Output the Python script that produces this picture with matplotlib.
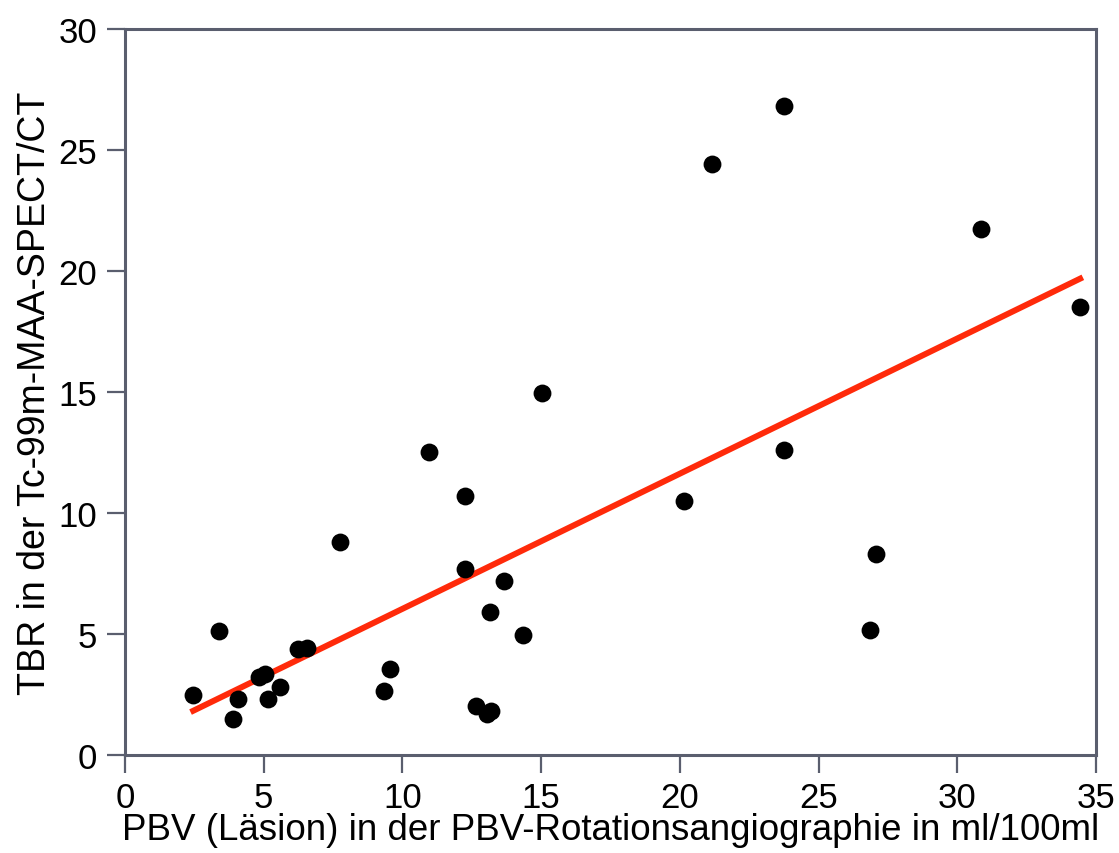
import numpy as np
import matplotlib
matplotlib.use('Agg')
import matplotlib.pyplot as plt

plt.rcParams['font.family'] = ['Liberation Sans', 'DejaVu Sans']

# PBV (lesion) vs TBR
pbv = [2.46, 3.38, 3.88, 4.06, 4.83, 5.05, 5.17, 5.59, 6.25, 6.55,
       7.75, 9.35, 9.55, 10.96, 12.26, 12.26, 12.64, 13.04, 13.18, 13.16,
       13.66, 14.36, 15.03, 20.15, 21.16, 23.76, 23.76, 26.86, 27.07, 30.86, 34.43]
tbr = [2.48, 5.11, 1.49, 2.31, 3.22, 3.35, 2.31, 2.82, 4.38, 4.41,
       8.80, 2.63, 3.55, 12.52, 10.70, 7.69, 2.04, 1.69, 1.83, 5.90,
       7.18, 4.96, 14.96, 10.50, 24.42, 26.82, 12.60, 5.17, 8.31, 21.74, 18.51]

xticks = [0, 5, 10, 15, 20, 25, 30, 35]
yticks = [0, 5, 10, 15, 20, 25, 30]

fig = plt.figure(figsize=(11.19, 8.54), dpi=100)
ax = fig.add_axes([0.1117, 0.1148, 0.8677, 0.8501])

ax.scatter(pbv, tbr, s=165, color='black', zorder=3, linewidths=0)

# linear regression
k, d = np.polyfit(pbv, tbr, 1)
xs = np.array([min(pbv), max(pbv)])
ax.plot(xs, k * xs + d, color='#ff2a0a', lw=4.3, zorder=2)

ax.set_xlim(0, 35)
ax.set_ylim(0, 30)
ax.set_xticks(xticks)
ax.set_yticks(yticks)

spine_col = '#5a5e6e'
for s in ax.spines.values():
    s.set_color(spine_col)
    s.set_linewidth(2.2)
ax.tick_params(direction='out', length=13, width=1.6, color=spine_col,
               labelsize=25, pad=6)
ax.tick_params(axis='y', pad=7)

ax.set_xlabel('PBV (Läsion) in der PBV-Rotationsangiographie in ml/100ml',
              fontsize=26.5, labelpad=-2)
ax.set_ylabel('TBR in der Tc-99m-MAA-SPECT/CT', fontsize=27, labelpad=4)

fig.savefig('out.png', dpi=100)
